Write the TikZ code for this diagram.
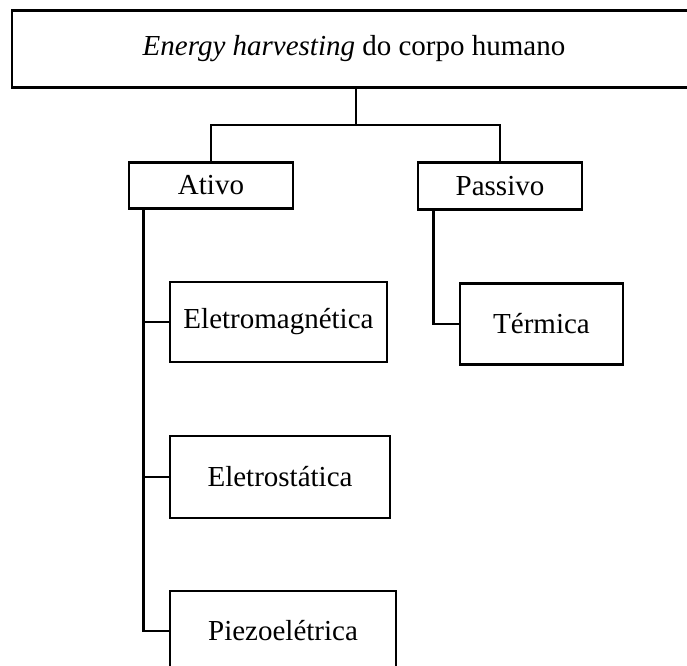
\documentclass[tikz,border=0pt]{standalone}
\usepackage{fontspec}
\setmainfont{Liberation Serif}

\begin{document}
\begin{tikzpicture}[x=1pt,y=1pt,yscale=-1,xscale=1,
  caixa/.style={draw,line width=2.9pt,inner sep=0pt,font=\fontsize{29}{34}\selectfont},
  texto/.style={font=\fontsize{29}{34}\selectfont},
  liga/.style={line width=2.8pt}]
\useasboundingbox (0,0) rectangle (687,665);

% Caixa principal
\node [caixa,minimum width=688,minimum height=77] (corpo) at (356,49.2) {};
% Text Node
\node [texto] (titulo) at (354,49) {\textit{Energy harvesting} do corpo humano};

% Caixas do segundo nivel
\node [caixa,minimum width=164,minimum height=46] (ativo) at (211,185.5) {Ativo};
\node [caixa,minimum width=164,minimum height=47] (passivo) at (500,186) {Passivo};

% Caixas do terceiro nivel
\node [caixa,minimum width=217,minimum height=80] (eletromag) at (278.5,322) {Eletromagnética};
\node [caixa,minimum width=220,minimum height=82] (eletrost) at (280,477) {Eletrostática};
\node [caixa,minimum width=226,minimum height=80] (piezo) at (283,631) {Piezoelétrica};
\node [caixa,minimum width=163,minimum height=81] (termica) at (541.5,324) {Térmica};

% Ligacoes
\coordinate (nivel) at (356,125);
\draw [liga] (corpo.south) -- (nivel);
\draw [liga] (ativo.north) |- (nivel) -| (passivo.north);
\draw [liga] ([xshift=16]ativo.south west) |- (piezo.west);
\draw [liga] (eletromag.west) -| ([xshift=16]ativo.south west);
\draw [liga] (eletrost.west) -| ([xshift=16]ativo.south west);
\draw [liga] ([xshift=17]passivo.south west) |- (termica.west);

\end{tikzpicture}
\end{document}
